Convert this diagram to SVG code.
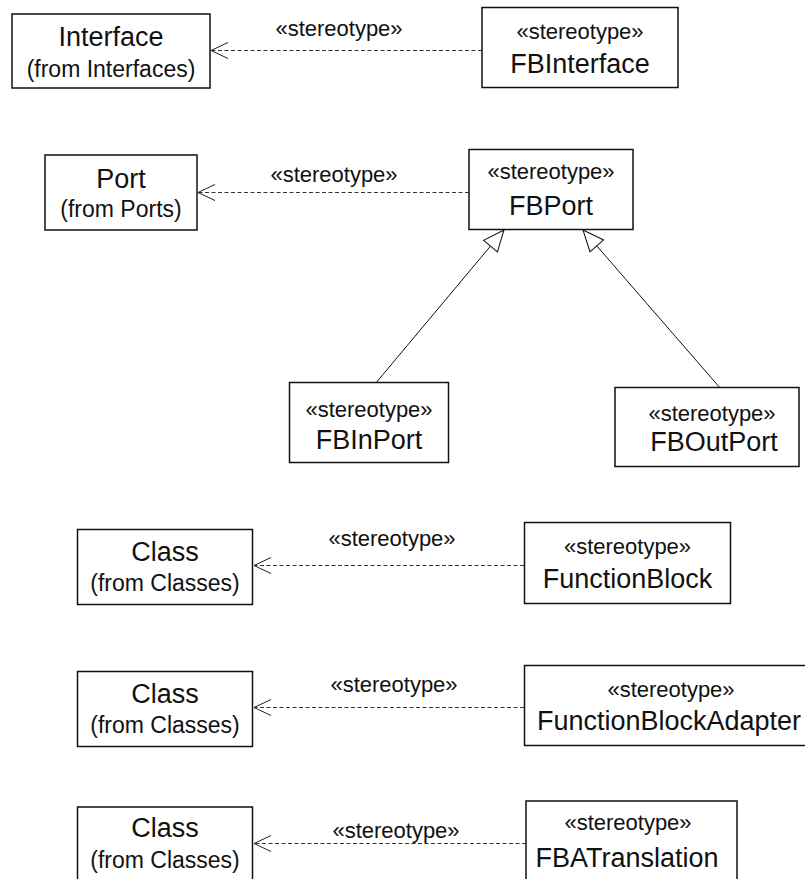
<svg xmlns="http://www.w3.org/2000/svg" width="805" height="879" viewBox="0 0 805 879">
  <style>
    text { font-family: "Liberation Sans", Arial, Helvetica, sans-serif; fill: #111; text-anchor: middle; }
    .box { fill: #fff; stroke: #111; stroke-width: 1.5; }
    .name { font-size: 27px; }
    .from { font-size: 23px; }
    .st { font-size: 22px; }
    .dep { fill: none; stroke: #333; stroke-width: 1; stroke-dasharray: 4 2.5; marker-end: url(#openArrow); }
    .gen { fill: none; stroke: #111; stroke-width: 1; marker-end: url(#hollowTriangle); }
  </style>
  <defs>
    <marker id="openArrow" markerUnits="userSpaceOnUse" markerWidth="20" markerHeight="20" viewBox="-18 -10 20 20" refX="0" refY="0" orient="auto" overflow="visible">
      <path d="M-17,-8 L0,0 L-17,8" fill="none" stroke="#222" stroke-width="1" stroke-dasharray="none"/>
    </marker>
    <marker id="hollowTriangle" markerUnits="userSpaceOnUse" markerWidth="24" markerHeight="24" viewBox="-22 -12 24 24" refX="0" refY="0" orient="auto" overflow="visible">
      <path d="M0,0 L-21,-9 L-21,9 Z" fill="#fff" stroke="#111" stroke-width="1"/>
    </marker>
  </defs>

  <rect width="805" height="879" fill="#fff"/>

  <!-- connectors -->
  <g id="connectors">
    <line class="dep" x1="482" y1="50.5" x2="211" y2="50.5"/>
    <text class="st" x="339" y="36">«stereotype»</text>

    <line class="dep" x1="469" y1="192.5" x2="198" y2="192.5"/>
    <text class="st" x="334" y="181.5">«stereotype»</text>

    <line class="gen" x1="375" y1="384" x2="504" y2="230"/>
    <line class="gen" x1="721" y1="389" x2="583" y2="230"/>

    <line class="dep" x1="524" y1="565.5" x2="254" y2="565.5"/>
    <text class="st" x="392" y="545.5">«stereotype»</text>

    <line class="dep" x1="524" y1="707.5" x2="254" y2="707.5"/>
    <text class="st" x="394" y="691.5">«stereotype»</text>

    <line class="dep" x1="526" y1="843.5" x2="254" y2="843.5"/>
    <text class="st" x="396" y="837.5">«stereotype»</text>
  </g>

  <!-- nodes -->
  <g id="interface">
    <rect class="box" x="12" y="14" width="198" height="74"/>
    <text class="name" x="111" y="45.5">Interface</text>
    <text class="from" x="111" y="77">(from Interfaces)</text>
  </g>

  <g id="fbinterface">
    <rect class="box" x="482" y="7.5" width="196" height="80"/>
    <text class="st" x="580" y="39">«stereotype»</text>
    <text class="name" x="580" y="73">FBInterface</text>
  </g>

  <g id="port">
    <rect class="box" x="45" y="155" width="152" height="75"/>
    <text class="name" x="121" y="187.5">Port</text>
    <text class="from" x="121" y="217">(from Ports)</text>
  </g>

  <g id="fbport">
    <rect class="box" x="469" y="149.5" width="164" height="80"/>
    <text class="st" x="551" y="179">«stereotype»</text>
    <text class="name" x="551" y="215">FBPort</text>
  </g>

  <g id="fbinport">
    <rect class="box" x="289.5" y="382.5" width="159" height="80"/>
    <text class="st" x="369" y="417">«stereotype»</text>
    <text class="name" x="369" y="448.5">FBInPort</text>
  </g>

  <g id="fboutport">
    <rect class="box" x="615" y="387.5" width="184" height="79"/>
    <text class="st" x="712" y="420.5">«stereotype»</text>
    <text class="name" x="714" y="451">FBOutPort</text>
  </g>

  <g id="class-1">
    <rect class="box" x="77.5" y="529.5" width="175" height="75"/>
    <text class="name" x="165" y="560.5">Class</text>
    <text class="from" x="165" y="591">(from Classes)</text>
  </g>

  <g id="functionblock">
    <rect class="box" x="524.5" y="522.5" width="206" height="81"/>
    <text class="st" x="627.5" y="554">«stereotype»</text>
    <text class="name" x="627.5" y="588">FunctionBlock</text>
  </g>

  <g id="class-2">
    <rect class="box" x="77.5" y="671.5" width="175" height="75"/>
    <text class="name" x="165" y="702.5">Class</text>
    <text class="from" x="165" y="733">(from Classes)</text>
  </g>

  <g id="functionblockadapter">
    <rect class="box" x="524.5" y="665.5" width="290" height="80"/>
    <text class="st" x="671" y="696.5">«stereotype»</text>
    <text class="name" x="669" y="730">FunctionBlockAdapter</text>
  </g>

  <g id="class-3">
    <rect class="box" x="77.5" y="807" width="175" height="80"/>
    <text class="name" x="165" y="836.5">Class</text>
    <text class="from" x="165" y="868">(from Classes)</text>
  </g>

  <g id="fbatranslation">
    <rect class="box" x="526" y="801" width="211" height="90"/>
    <text class="st" x="628" y="830">«stereotype»</text>
    <text class="name" x="627" y="866.5">FBATranslation</text>
  </g>
</svg>
